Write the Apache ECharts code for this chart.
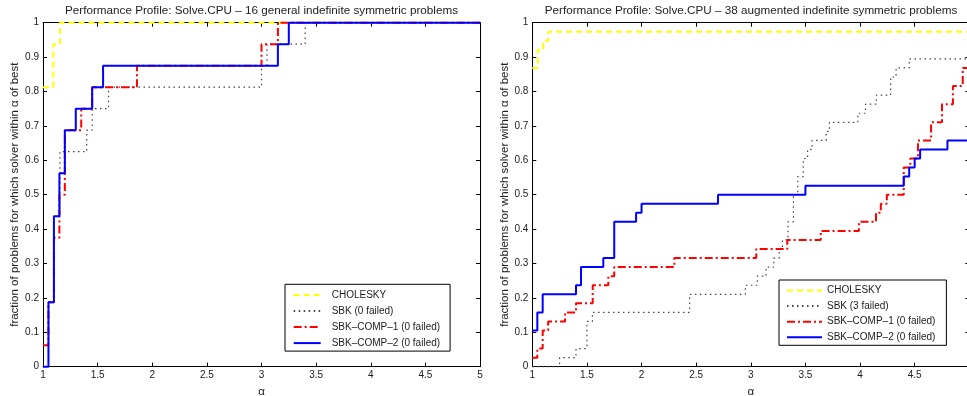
<!DOCTYPE html>
<html><head><meta charset="utf-8">
<script src="https://cdn.jsdelivr.net/npm/echarts@6/dist/echarts.min.js"></script>
<style>html,body{margin:0;padding:0;background:#fff}#c{width:967px;height:396px}</style>
</head><body><div id="c"></div>
<script>
// ---- tick values ----
const alphaTicks = [1, 1.5, 2, 2.5, 3, 3.5, 4, 4.5, 5];
const fracTicks = [0, 0.1, 0.2, 0.3, 0.4, 0.5, 0.6, 0.7, 0.8, 0.9, 1];

// ---- titles / names ----
const titleLeft = 'Performance Profile: Solve.CPU – 16 general indefinite symmetric problems';
const titleRight = 'Performance Profile: Solve.CPU – 38 augmented indefinite symmetric problems';
const yLabel = 'fraction of problems for which solver within α of best';
const xLabel = 'α';
const namesLeft = ['CHOLESKY', 'SBK (0 failed)', 'SBK–COMP–1 (0 failed)', 'SBK–COMP–2 (0 failed)'];
const namesRight = ['CHOLESKY', 'SBK (3 failed)', 'SBK–COMP–1 (0 failed)', 'SBK–COMP–2 (0 failed)'];

// ---- left panel (16 problems) ----
const cholLAlpha = [1, 1.095, 1.155, 5];
const cholLFrac  = [0.8125, 0.9375, 1, 1];
const sbkLAlpha  = [1, 1.05, 1.10, 1.155, 1.40, 1.45, 1.60, 3.0, 3.05, 3.40, 5];
const sbkLFrac   = [0, 0.1875, 0.4375, 0.625, 0.6875, 0.75, 0.8125, 0.875, 0.9375, 1, 1];
const c1LAlpha   = [1, 1.05, 1.10, 1.15, 1.20, 1.35, 1.45, 1.86, 3.0, 3.15, 5];
const c1LFrac    = [0.0625, 0.1875, 0.375, 0.5, 0.6875, 0.75, 0.8125, 0.875, 0.9375, 1, 1];
const c2LAlpha   = [1, 1.05, 1.10, 1.15, 1.20, 1.30, 1.45, 1.55, 3.15, 3.25, 5];
const c2LFrac    = [0, 0.1875, 0.4375, 0.5625, 0.6875, 0.75, 0.8125, 0.875, 0.9375, 1, 1];

// ---- right panel (38 problems) ----
const cholRAlpha = [1, 1.05, 1.10, 1.146, 5];
const cholRFrac  = [0.8684, 0.9211, 0.9474, 0.9737, 0.9737];
const sbkRAlpha  = [1, 1.25, 1.40, 1.50, 1.55, 2.44, 2.95, 3.06, 3.14, 3.21, 3.26, 3.29, 3.34, 3.39, 3.43, 3.48, 3.52, 3.56, 3.69, 3.72, 3.98, 4.05, 4.15, 4.28, 4.33, 4.45, 5];
const sbkRFrac   = [0, 0.0263, 0.0526, 0.1316, 0.1579, 0.2105, 0.2368, 0.2632, 0.2895, 0.3158, 0.3421, 0.3684, 0.4211, 0.5, 0.5526, 0.6053, 0.6316, 0.6579, 0.6842, 0.7105, 0.7368, 0.7632, 0.7895, 0.8421, 0.8684, 0.8947, 0.8947];
const c1RAlpha   = [1, 1.046, 1.095, 1.145, 1.30, 1.40, 1.553, 1.696, 1.75, 2.30, 3.05, 3.334, 3.64, 3.99, 4.146, 4.19, 4.245, 4.40, 4.46, 4.53, 4.65, 4.75, 4.85, 4.94, 5];
const c1RFrac    = [0.0263, 0.0526, 0.1053, 0.1316, 0.1579, 0.1842, 0.2368, 0.2632, 0.2895, 0.3158, 0.3421, 0.3684, 0.3947, 0.4211, 0.4474, 0.4737, 0.5, 0.5789, 0.6053, 0.6579, 0.7105, 0.7632, 0.8158, 0.8684, 0.8684];
const c2RAlpha   = [1, 1.046, 1.095, 1.40, 1.446, 1.65, 1.75, 1.95, 2.0, 2.70, 3.50, 4.40, 4.45, 4.50, 4.55, 4.80, 5];
const c2RFrac    = [0.1053, 0.1579, 0.2105, 0.2368, 0.2895, 0.3158, 0.4211, 0.4474, 0.4737, 0.5, 0.5263, 0.5526, 0.5789, 0.6053, 0.6316, 0.6579, 0.6579];

const FONT = 'Liberation Sans, Arial, Helvetica, sans-serif';
const pair = (a, f) => a.map((v, i) => [v, f[i]]);

const styles = [
  { color: '#ffff00', width: 2, type: [6, 4] },
  { color: '#444444', width: 1.2, type: [1.5, 3.5] },
  { color: '#ff0000', width: 2, type: [8, 3, 2, 3] },
  { color: '#0000ff', width: 2, type: 'solid' }
];

const xMin = alphaTicks[0], xMax = alphaTicks[alphaTicks.length - 1], xInt = alphaTicks[1] - alphaTicks[0];
const yMin = fracTicks[0], yMax = fracTicks[fracTicks.length - 1], yInt = 0.1;

const lineAx = { show: true, onZero: false, lineStyle: { color: '#000', width: 1 } };
const tickAx = { show: true, inside: true, length: 4, lineStyle: { color: '#000', width: 1 } };
const lblStyle = { fontSize: 10, color: '#222', fontFamily: FONT };

function xAxes(gi) {
  return [
    { gridIndex: gi, type: 'value', min: xMin, max: xMax, interval: xInt, position: 'bottom',
      axisLine: lineAx, axisTick: tickAx, splitLine: { show: false },
      axisLabel: Object.assign({ margin: 4 }, lblStyle),
      name: xLabel, nameLocation: 'middle', nameGap: 16,
      nameTextStyle: { fontSize: 11.5, color: '#222', fontFamily: FONT } },
    { gridIndex: gi, type: 'value', min: xMin, max: xMax, interval: xInt, position: 'top',
      axisLine: lineAx, axisTick: tickAx, splitLine: { show: false }, axisLabel: { show: false } }
  ];
}
function yAxes(gi, gap) {
  return [
    { gridIndex: gi, type: 'value', min: yMin, max: yMax, interval: yInt, position: 'left',
      axisLine: lineAx, axisTick: tickAx, splitLine: { show: false },
      axisLabel: Object.assign({ margin: 4 }, lblStyle),
      name: yLabel, nameLocation: 'middle', nameGap: gap,
      nameTextStyle: { fontSize: 11.5, color: '#222', fontFamily: FONT } },
    { gridIndex: gi, type: 'value', min: yMin, max: yMax, interval: yInt, position: 'right',
      axisLine: lineAx, axisTick: tickAx, splitLine: { show: false }, axisLabel: { show: false } }
  ];
}

function mkSeries(names, datas, xi, yi) {
  return names.map((n, i) => ({
    name: n, type: 'line', step: 'end', xAxisIndex: xi, yAxisIndex: yi,
    data: datas[i], symbol: 'none', clip: false, animation: false,
    lineStyle: styles[i], itemStyle: { color: styles[i].color }, z: 3 + i
  }));
}

const seriesL = mkSeries(namesLeft, [pair(cholLAlpha, cholLFrac), pair(sbkLAlpha, sbkLFrac), pair(c1LAlpha, c1LFrac), pair(c2LAlpha, c2LFrac)], 0, 0);
const seriesR = mkSeries(namesRight, [pair(cholRAlpha, cholRFrac), pair(sbkRAlpha, sbkRFrac), pair(c1RAlpha, c1RFrac), pair(c2RAlpha, c2RFrac)], 2, 2);

const legendCommon = {
  orient: 'vertical', itemHeight: 12, borderColor: '#000', borderWidth: 1,
  backgroundColor: '#fff', selectedMode: false, borderRadius: 0,
  itemStyle: { opacity: 0 },
  textStyle: { fontSize: 10, color: '#222', fontFamily: FONT }
};

const option = {
  animation: false,
  backgroundColor: '#fff',
  title: [
    { text: titleLeft, left: 261.5, textAlign: 'center', top: 5, padding: 0,
      textStyle: { fontSize: 11.7, fontWeight: 'normal', color: '#222', fontFamily: FONT } },
    { text: titleRight, left: 751, textAlign: 'center', top: 5, padding: 0,
      textStyle: { fontSize: 11.7, fontWeight: 'normal', color: '#222', fontFamily: FONT } }
  ],
  grid: [
    { left: 43, top: 22.7, width: 437, height: 344, outerBoundsMode: 'none', containLabel: false },
    { left: 532.3, top: 22.7, width: 437, height: 344, outerBoundsMode: 'none', containLabel: false }
  ],
  xAxis: xAxes(0).concat(xAxes(1)),
  yAxis: yAxes(0, 22).concat(yAxes(1, 19)),
  legend: [
    Object.assign({}, legendCommon, { data: namesLeft, left: 285, top: 284.3, itemWidth: 27, itemGap: 6,
      padding: [5.8, 10, 3, 7.7],
      textStyle: { fontSize: 10, color: '#222', fontFamily: FONT, padding: [0, 0, 0, 6] } }),
    Object.assign({}, legendCommon, { data: namesRight, left: 779, top: 280, itemWidth: 35, itemGap: 5.6,
      padding: [5.5, 11, 3, 7] })
  ],
  series: seriesL.concat(seriesR)
};

const chart = echarts.init(document.getElementById('c'), null, { renderer: 'canvas' });
chart.setOption(option);
</script>
</body></html>
